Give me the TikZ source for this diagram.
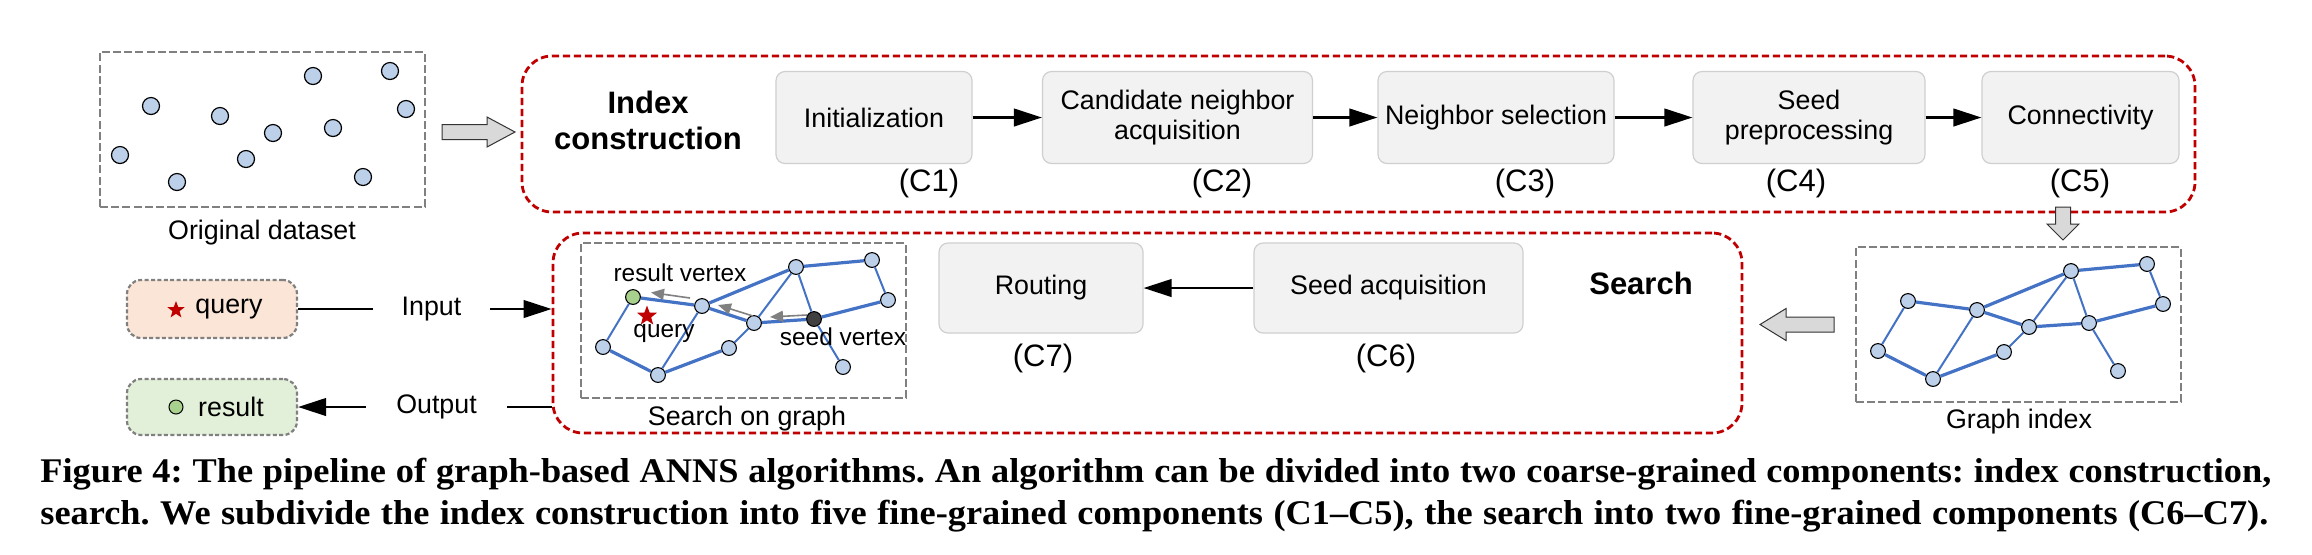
\documentclass[tikz,border=0pt]{standalone}
\usepackage{fontspec}
\setmainfont{Liberation Sans}
\newfontfamily\capfont[FakeStretch=1.05]{Liberation Serif}
\usetikzlibrary{arrows.meta,shapes.geometric}
\definecolor{redd}{HTML}{C00000}
\definecolor{grayd}{HTML}{808080}
\definecolor{boxfill}{HTML}{F2F2F2}
\definecolor{boxline}{HTML}{CFCFCF}
\definecolor{edgec}{HTML}{4472C4}
\definecolor{vfill}{HTML}{BDD0EA}
\definecolor{gfill}{HTML}{A9D18E}
\definecolor{qfill}{HTML}{FBE5D6}
\definecolor{rfill}{HTML}{E2F0D9}
\definecolor{arrfill}{HTML}{D9D9D9}
\definecolor{seedc}{HTML}{404040}
\newcommand\gnet[3]{%
  \node[vtx, fill=#2] (#1A) at (633,297) {};
  \node[vtx] (#1B) at (702,306) {};
  \node[vtx] (#1C) at (796,267) {};
  \node[vtx] (#1D) at (872,260) {};
  \node[vtx] (#1E) at (888,300) {};
  \node[vtx] (#1F) at (754,323) {};
  \node[vtx, fill=#3] (#1G) at (814,319) {};
  \node[vtx] (#1H) at (603,347) {};
  \node[vtx] (#1I) at (729,348) {};
  \node[vtx] (#1J) at (658,375) {};
  \node[vtx] (#1K) at (843,367) {};
  \draw[thickedge] (#1A) -- (#1B);
  \draw[thickedge] (#1H) -- (#1J);
  \draw[thickedge] (#1J) -- (#1I);
  \draw[thickedge] (#1B) -- (#1F);
  \draw[thickedge] (#1F) -- (#1G);
  \draw[thickedge] (#1G) -- (#1E);
  \draw[thickedge] (#1B) -- (#1C);
  \draw[thickedge] (#1C) -- (#1D);
  \draw[thinedge] (#1A) -- (#1H);
  \draw[thinedge] (#1J) -- (#1B);
  \draw[thinedge] (#1I) -- (#1F);
  \draw[thinedge] (#1G) -- (#1K);
  \draw[thinedge] (#1C) -- (#1F);
  \draw[thinedge] (#1C) -- (#1G);
  \draw[thinedge] (#1D) -- (#1E);
}
\begin{document}
\frenchspacing
\begin{tikzpicture}[x=0.5pt,y=-0.5pt,
  txt/.style={font=\fontsize{13.4}{15}\selectfont, inner sep=0pt},
  smalltxt/.style={font=\fontsize{12.2}{14}\selectfont, inner sep=0pt},
  clab/.style={font=\fontsize{15.5}{18}\selectfont, inner sep=0pt},
  boldlab/.style={font=\bfseries\fontsize{15.5}{18}\selectfont, inner sep=0pt, align=center},
  proc/.style={draw=boxline, fill=boxfill, rounded corners=4.5pt, line width=0.6pt, align=center,
     font=\fontsize{13.4}{15}\selectfont, inner sep=0pt, minimum height=46pt},
  rbox/.style={draw=redd, line width=1.4pt, dash pattern=on 3.6pt off 1.9pt, rounded corners=15pt, inner sep=0pt},
  gbox/.style={draw=grayd, line width=1.4pt, dash pattern=on 4pt off 1.6pt, inner sep=0pt},
  iobox/.style={draw=grayd, line width=1.1pt, dash pattern=on 2pt off 1.2pt, rounded corners=7pt, inner sep=0pt,
     minimum width=85pt},
  dot/.style={circle, draw=black, fill=vfill, line width=0.6pt, minimum size=8.5pt, inner sep=0pt},
  vtx/.style={circle, draw=black, fill=vfill, line width=0.55pt, minimum size=7.4pt, inner sep=0pt},
  thickedge/.style={draw=edgec, line width=1.6pt},
  thinedge/.style={draw=edgec, line width=1pt},
  arr/.style={draw=black, line width=1.1pt, -{Triangle[length=14pt,width=8.8pt]}},
  plainline/.style={draw=black, line width=1.1pt},
  garrow/.style={draw=grayd, line width=0.8pt, -{Triangle[length=6.5pt,width=5.5pt]}},
  blockarr/.style={fill=arrfill, draw=black!80, line width=0.5pt},
  starnode/.style={star, star points=5, star point ratio=2.4, fill=redd, inner sep=0pt},
  captext/.style={font=\capfont\bfseries\fontsize{17.3}{20}\selectfont, inner sep=0pt}
]
\useasboundingbox (0,0) rectangle (2312,554);
\fill[white] (0,0) rectangle (2312,554);

% ---------- original dataset ----------
\node[gbox, minimum width=162.5pt, minimum height=77.5pt] (dataset) at (262.5,129.5) {};
\foreach \p [count=\i] in {(313,76),(390,71),(151,106),(220,116),(406,109),(333,128),(273,133),(120,155),(246,159),(177,182),(363,177)}
  \node[dot] (d\i) at \p {};
\node[txt] (dslabel) at (262,233) {Original dataset};

% block arrow dataset -> index construction
\filldraw[blockarr] (442,124.5) -- (487,124.5) -- (487,117) -- (515,132) -- (487,147) -- (487,139.5) -- (442,139.5) -- cycle;

% ---------- index construction ----------
\node[rbox, minimum width=836.5pt, minimum height=78pt] (indexbox) at (1358.5,134) {};
\node[boldlab] (idxlab) at (648,120) {Index\\construction};

\node[proc, minimum width=98pt] (init) at (874,117.5) {Initialization};
\node[proc, minimum width=135pt] (cand) at (1177.5,117.5) {Candidate neighbor\\acquisition};
\node[proc, minimum width=118pt] (nsel) at (1496,117.5) {Neighbor selection};
\node[proc, minimum width=116pt] (seedp) at (1809,117.5) {Seed\\preprocessing};
\node[proc, minimum width=98.5pt] (conn) at (2080.5,117.5) {Connectivity};
\draw[arr] (init) -- (cand);
\draw[arr] (cand) -- (nsel);
\draw[arr] (nsel) -- (seedp);
\draw[arr] (seedp) -- (conn);
\node[clab] (c1) at (929,183) {(C1)};
\node[clab] (c2) at (1222,183) {(C2)};
\node[clab] (c3) at (1525,183) {(C3)};
\node[clab] (c4) at (1796,183) {(C4)};
\node[clab] (c5) at (2080,183) {(C5)};

% block arrow down to graph index
\filldraw[blockarr] (2055.5,207) -- (2070.5,207) -- (2070.5,224) -- (2079,224) -- (2063,240) -- (2047,224) -- (2055.5,224) -- cycle;

% ---------- graph index ----------
\node[gbox, minimum width=162.5pt, minimum height=77.5pt] (gindex) at (2018.5,324.5) {};
\begin{scope}[shift={(1275,4)}]
  \gnet{gi}{vfill}{vfill}
\end{scope}
\node[txt] (gilabel) at (2019,422) {Graph index};

% block arrow graph index -> search
\filldraw[blockarr] (1834,317) -- (1786,317) -- (1786,308.5) -- (1760,324.5) -- (1786,340.5) -- (1786,332) -- (1834,332) -- cycle;

% ---------- search ----------
\node[rbox, minimum width=594.5pt, minimum height=100pt] (searchbox) at (1147.5,333) {};
\node[boldlab] (srchlab) at (1641,283) {Search};
\node[proc, minimum width=134.5pt, minimum height=45pt] (seedacq) at (1388.5,288) {Seed acquisition};
\node[proc, minimum width=102pt, minimum height=45pt] (routing) at (1041,288) {Routing};
\draw[arr] (seedacq) -- (routing);
\node[clab] (c6) at (1386,358) {(C6)};
\node[clab] (c7) at (1043,358) {(C7)};

% search on graph
\node[gbox, minimum width=162.5pt, minimum height=77.5pt] (sgraph) at (743.5,320.5) {};
\gnet{s}{gfill}{seedc}
\node[starnode, minimum size=10.5pt] (qstar) at (647,316) {};
\coordinate (ga1) at (690,298);
\coordinate (gb1) at (651,292.5);
\coordinate (ga2) at (753,316);
\coordinate (gb2) at (718,305);
\coordinate (ga3) at (807,315);
\coordinate (gb3) at (770,317);
\draw[garrow] (ga1) -- (gb1);
\draw[garrow] (ga2) -- (gb2);
\draw[garrow] (ga3) -- (gb3);
\node[smalltxt] (rvlab) at (680,273) {result vertex};
\node[smalltxt] (qlab) at (664,333) {query};
\node[smalltxt] (svlab) at (843,337) {seed vertex};
\node[txt] (sglabel) at (747,419) {Search on graph};

% ---------- query / result ----------
\node[iobox, fill=qfill, minimum height=29pt] (query) at (212,309) {};
\node[starnode, minimum size=9pt] (qstar2) at (176,310) {};
\node[txt] (qtext) at (229,309) {query};
\node[iobox, fill=rfill, minimum height=28pt] (result) at (212,407) {};
\node[circle, draw=black, fill=gfill, line width=0.5pt, minimum size=7pt, inner sep=0pt] (rdot) at (176,407) {};
\node[txt] (rtext) at (231,407) {result};

\node[txt, minimum width=58.5pt] (input) at (431.5,309) {Input};
\draw[plainline] (query.east) -- (input.west);
\draw[arr] (input.east) -- (input.east -| searchbox.west);
\node[txt, minimum width=70.5pt] (output) at (436.5,407) {Output};
\draw[plainline] (output.east -| searchbox.west) -- (output.east);
\draw[arr] (output.west) -- (result.east);

% ---------- caption ----------
\node[captext, anchor=base west] (cap1) at (40,482) {\makebox[1115.5pt][s]{Figure 4: The pipeline of graph-based ANNS algorithms. An algorithm can be divided into two coarse-grained components: index construction,}};
\node[captext, anchor=base west] (cap2) at (40,524) {\makebox[1114pt][s]{search. We subdivide the index construction into five fine-grained components (C1–C5), the search into two fine-grained components (C6–C7).}};
\end{tikzpicture}
\end{document}
